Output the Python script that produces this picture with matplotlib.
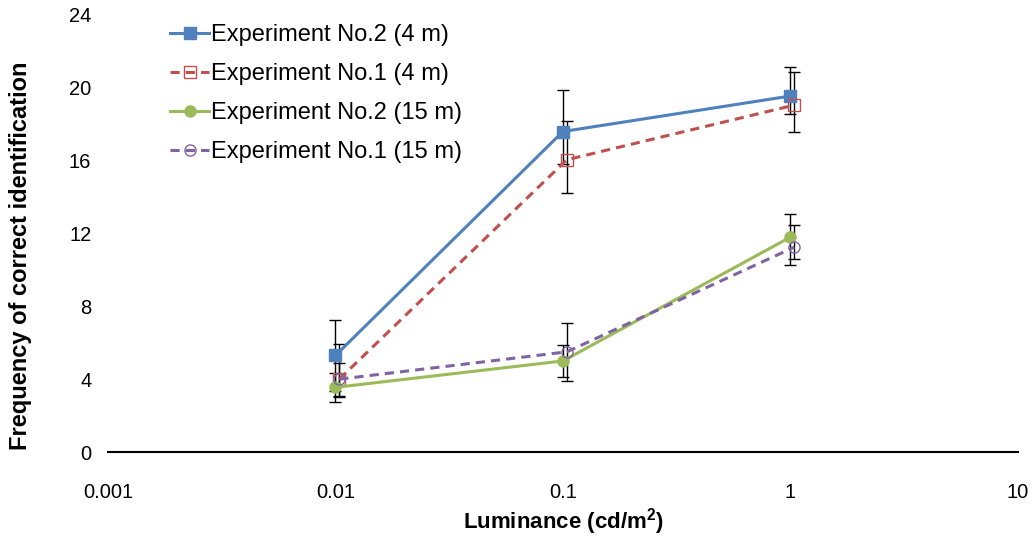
import numpy as np
import matplotlib.pyplot as plt
from matplotlib.lines import Line2D

plt.rcParams['font.family'] = ['Liberation Sans', 'DejaVu Sans']

# luminance (cd/m2); Exp. No.1 points sit slightly right of the decade in the original
lum_exp2 = [0.01, 0.1, 1.0]
lum_exp1 = [0.0104, 0.104, 1.04]

exp2_4m = [5.3, 17.6, 19.55]
exp2_4m_lo = [1.95, 1.8, 1.0]
exp2_4m_hi = [1.95, 2.3, 1.6]

exp1_4m = [4.0, 16.05, 19.05]
exp1_4m_lo = [0.9, 1.85, 1.45]
exp1_4m_hi = [0.9, 2.15, 1.8]

exp2_15m = [3.55, 5.0, 11.8]
exp2_15m_lo = [0.8, 0.9, 1.55]
exp2_15m_hi = [0.8, 0.9, 1.25]

exp1_15m = [4.0, 5.5, 11.25]
exp1_15m_lo = [1.0, 1.6, 0.65]
exp1_15m_hi = [1.95, 1.6, 1.2]

labels = ['Experiment No.2 (4 m)', 'Experiment No.1 (4 m)',
          'Experiment No.2 (15 m)', 'Experiment No.1 (15 m)']

fig = plt.figure(figsize=(10.34, 5.39), dpi=100)
ax = fig.add_axes([0.1044, 0.1614, 0.88, 0.8108])

ekw = dict(ecolor='black', elinewidth=1.0, capsize=4, capthick=1.0)

styles = [
    dict(color='#4F81BD', ls='-', marker='s', mfc='#4F81BD'),
    dict(color='#C0504D', ls=(0, (3, 2)), marker='s', mfc='none'),
    dict(color='#9BBB59', ls='-', marker='o', mfc='#9BBB59'),
    dict(color='#8064A2', ls=(0, (3, 2)), marker='o', mfc='none'),
]
series = [
    (lum_exp2, exp2_4m, exp2_4m_lo, exp2_4m_hi),
    (lum_exp1, exp1_4m, exp1_4m_lo, exp1_4m_hi),
    (lum_exp2, exp2_15m, exp2_15m_lo, exp2_15m_hi),
    (lum_exp1, exp1_15m, exp1_15m_lo, exp1_15m_hi),
]

handles = []
for (x, y, lo, hi), st in zip(series, styles):
    ax.errorbar(x, y, yerr=[lo, hi], color=st['color'], lw=2.2, ls=st['ls'],
                marker=st['marker'], ms=8, mfc=st['mfc'], mec=st['color'],
                mew=1.0, zorder=3, **ekw)
    handles.append(Line2D([], [], color=st['color'], lw=2.2, ls=st['ls'],
                          marker=st['marker'], ms=8, mfc=st['mfc'],
                          mec=st['color'], mew=1.0))

ax.set_xscale('log')
ax.set_xlim(0.001, 10)
ax.set_ylim(0, 24)
ax.set_xticks([0.001, 0.01, 0.1, 1, 10])
ax.set_xticklabels(['0.001', '0.01', '0.1', '1', '10'])
ax.minorticks_off()
ax.set_yticks(np.arange(0, 25, 4))

for s in ['top', 'right', 'left']:
    ax.spines[s].set_visible(False)
ax.spines['bottom'].set_linewidth(1.5)
ax.tick_params(axis='both', length=0, labelsize=14.5)
ax.tick_params(axis='x', pad=22)
ax.tick_params(axis='y', pad=12)

ax.set_xlabel('Luminance (cd/m$^{\\mathregular{2}}$)', fontsize=16,
              fontweight='bold', labelpad=3)
ax.set_ylabel('Frequency of correct identification', fontsize=17,
              fontweight='bold')
ax.yaxis.set_label_coords(-0.083, 0.45)

ax.legend(handles, labels, loc='upper left', bbox_to_anchor=(0.045, 1.027),
          frameon=False, fontsize=17, handlelength=1.65, labelspacing=0.72,
          handletextpad=0.1)

fig.savefig('out.png', dpi=100)
